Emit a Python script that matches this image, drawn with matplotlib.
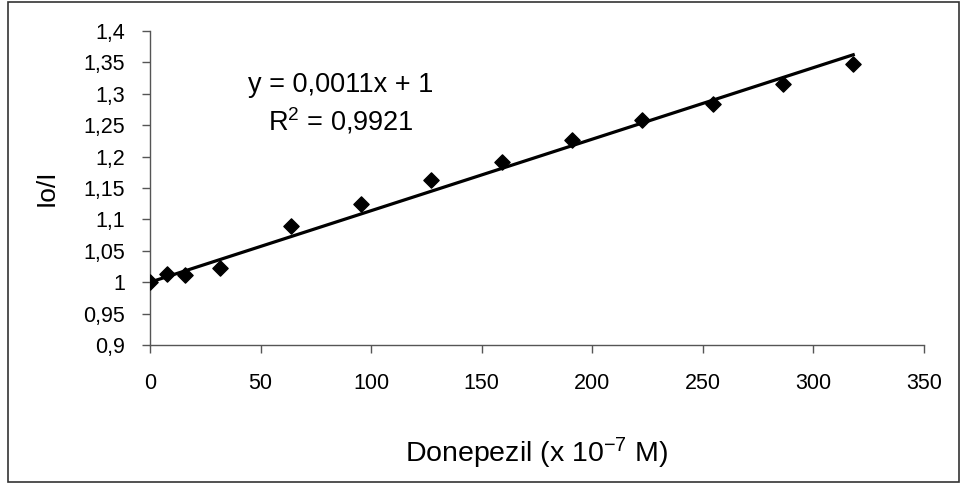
import numpy as np
import matplotlib
matplotlib.use("Agg")
import matplotlib.pyplot as plt
from matplotlib.patches import Rectangle
from matplotlib.ticker import FuncFormatter

plt.rcParams['font.family'] = ['Liberation Sans', 'DejaVu Sans']
plt.rcParams['mathtext.fontset'] = 'custom'
plt.rcParams['mathtext.rm'] = 'Liberation Sans'
plt.rcParams['mathtext.it'] = 'Liberation Sans'
plt.rcParams['mathtext.default'] = 'regular'

# Donepezil concentration (x 10^-7 M) and fluorescence ratio Io/I
conc = [0, 7.9, 15.9, 31.8, 63.6, 95.4, 127.2, 159.0, 190.8, 222.6, 254.4, 286.2, 318.0]
ratio = [1.000, 1.013, 1.011, 1.023, 1.090, 1.124, 1.163, 1.191, 1.227, 1.258, 1.284, 1.316, 1.348]

# trend line intercept fixed at 1 (Io/I = 1 without quencher)
intercept = 1.0

x_ticks = [0, 50, 100, 150, 200, 250, 300, 350]
y_ticks = [0.9, 0.95, 1.0, 1.05, 1.1, 1.15, 1.2, 1.25, 1.3, 1.35, 1.4]

fig = plt.figure(figsize=(9.61, 4.83), dpi=100)
ax = fig.add_axes([150 / 961, 1 - 345 / 483, 774 / 961, 314 / 483])

# least-squares slope with the intercept held fixed
x = np.asarray(conc)
y = np.asarray(ratio)
slope = np.sum(x * (y - intercept)) / np.sum(x * x)
xs = np.array([0, x.max()])
ax.plot(xs, slope * xs + intercept, color='black', lw=2.3, zorder=3)
ax.scatter(conc, ratio, marker='D', s=60, color='black', zorder=4)

ax.set_xlim(0, 350)
ax.set_ylim(0.9, 1.4)
ax.set_xticks(x_ticks)
ax.set_yticks(y_ticks)


def comma(v, pos):
    s = f"{v:.2f}".rstrip('0').rstrip('.')
    return s.replace('.', ',')


ax.yaxis.set_major_formatter(FuncFormatter(comma))
ax.xaxis.set_major_formatter(FuncFormatter(lambda v, p: f"{v:.0f}"))
ax.tick_params(direction='out', length=6, width=1, labelsize=15.5, color='#555555')
ax.tick_params(axis='x', pad=14)
ax.tick_params(axis='y', pad=12)
for side in ('top', 'right'):
    ax.spines[side].set_visible(False)
for side in ('left', 'bottom'):
    ax.spines[side].set_color('#555555')
    ax.spines[side].set_linewidth(1)

ax.set_ylabel('Io/I', fontsize=19, labelpad=18)
ax.set_xlabel(r'Donepezil (x 10$^{-7}$ M)', fontsize=20.5, labelpad=30)

ax.text(0.247, 0.828, 'y = 0,0011x + 1', transform=ax.transAxes,
        ha='center', va='center', fontsize=19.5)
ax.text(0.247, 0.712, r'R$^2$ = 0,9921', transform=ax.transAxes,
        ha='center', va='center', fontsize=19.5)

# outer chart frame
fig.patches.append(Rectangle((8 / 961, 1 / 483), 951 / 961, 480 / 483,
                             transform=fig.transFigure, fill=False,
                             edgecolor='#333333', lw=1.2))

fig.savefig('out.png', dpi=100)
